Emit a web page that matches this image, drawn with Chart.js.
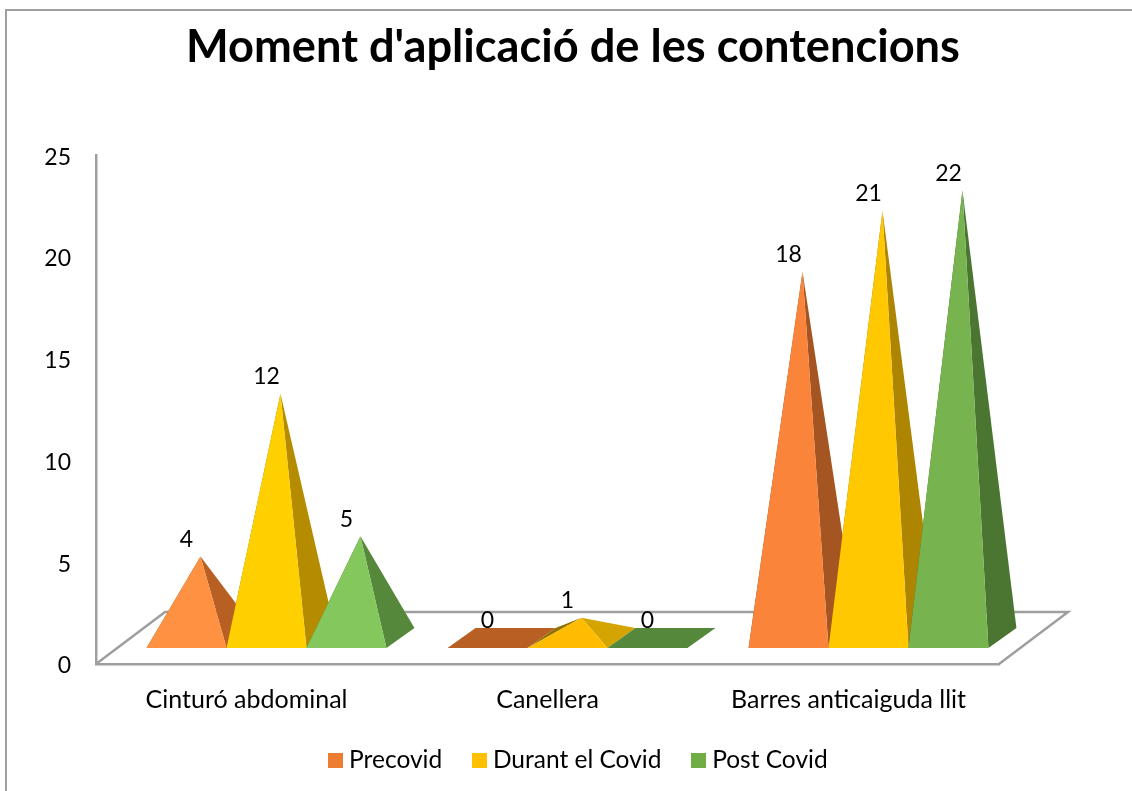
<!DOCTYPE html>
<html>
<head>
<meta charset="utf-8">
<style>html,body{margin:0;padding:0;background:#fff;overflow:hidden}canvas{display:block}</style>
<script src="https://cdn.jsdelivr.net/npm/chart.js@4"></script>
</head>
<body>
<div style="width:1132px;height:791px"><canvas id="c"></canvas></div>
<script>
const categories = ["Cinturó abdominal", "Canellera", "Barres anticaiguda llit"];
const precovid = [4, 0, 18];
const durantCovid = [12, 1, 21];
const postCovid = [5, 0, 22];
const seriesNames = ["Precovid", "Durant el Covid", "Post Covid"];
const legendColors = ["#ED7D31", "#FFC000", "#70AD47"];
const frontColors = [["#FF9142", "#FF9142", "#F9843A"], ["#FFD000", "#FFBC00", "#FFC800"], ["#83C75D", "#83C75D", "#77B44F"]];
const sideColors = [["#B86024", "#B86024", "#A55522"], ["#B58C00", "#D4A500", "#AE8500"], ["#55883A", "#55883A", "#4B7631"]];
const leftColors = ["#8a4a1c", "#8F7200", "#3f6a2a"];

const FONT = "Lato, Carlito, Calibri, sans-serif";
const GREY = "#9f9f9f";
const shiftX = 20, shiftY = 16, depthX = 28, depthY = 20;

function poly(ctx, pts, fill) {
  ctx.beginPath();
  pts.forEach((p, i) => i ? ctx.lineTo(p[0], p[1]) : ctx.moveTo(p[0], p[1]));
  ctx.closePath();
  ctx.fillStyle = fill;
  ctx.fill();
}
function swatch(color) {
  const s = document.createElement("canvas");
  s.width = 15; s.height = 15;
  const g = s.getContext("2d");
  g.fillStyle = color; g.fillRect(0, 0, 15, 15);
  return s;
}
const pyramids = {
  id: "pyramids",
  afterLayout(chart) {
    const t = chart.titleBlock, l = chart.legend;
    const tc = (t.left + t.right) / 2; t.left += 573 - tc; t.right += 573 - tc;
    const lc = (l.left + l.right) / 2; l.left += 581 - lc; l.right += 581 - lc;
    const h = l.bottom - l.top; l.top = 711.75; l.bottom = 711.75 + h;
  },
  beforeDraw(chart) {
    const ctx = chart.ctx, a = chart.chartArea;
    ctx.save();
    ctx.strokeStyle = GREY; ctx.lineWidth = 2;
    ctx.beginPath(); ctx.moveTo(1132, 10); ctx.lineTo(6, 10); ctx.lineTo(6, 791); ctx.stroke();
    ctx.lineWidth = 2.5; ctx.strokeStyle = GREY;
    ctx.beginPath();
    ctx.moveTo(a.left, a.bottom);
    ctx.lineTo(a.left + 69, a.bottom - 52);
    ctx.lineTo(a.right + 69, a.bottom - 52);
    ctx.lineTo(a.right, a.bottom);
    ctx.stroke();
    ctx.restore();
  },
  afterDatasetsDraw(chart) {
    const ctx = chart.ctx, y = chart.scales.y;
    ctx.save();
    const labels = [];
    chart.data.datasets.forEach((ds, s) => {
      chart.getDatasetMeta(s).data.forEach((bar, i) => {
        const v = ds.data[i];
        const cx = bar.x + shiftX, w = bar.width;
        const by = y.getPixelForValue(0) - shiftY;
        const FL = [cx - w / 2, by], FR = [cx + w / 2, by];
        const BR = [FR[0] + depthX, by - depthY], BL = [FL[0] + depthX, by - depthY];
        const apex = [cx + depthX / 2, y.getPixelForValue(v) - shiftY - depthY / 2];
        if (v === 0) {
          poly(ctx, [FL, FR, BR, BL], sideColors[s][i]);
        } else {
          poly(ctx, [FL, BL, apex], leftColors[s]);
          poly(ctx, [FR, BR, apex], sideColors[s][i]);
          poly(ctx, [FL, FR, apex], frontColors[s][i]);
        }
        labels.push([String(v), cx, y.getPixelForValue(v) - 43]);
      });
    });
    ctx.fillStyle = "#000";
    ctx.font = "23px " + FONT;
    ctx.textAlign = "center";
    ctx.textBaseline = "middle";
    labels.forEach(l => ctx.fillText(l[0], l[1], l[2]));
    ctx.restore();
  }
};

new Chart(document.getElementById("c"), {
  type: "bar",
  data: {
    labels: categories,
    datasets: [
      { label: seriesNames[0], data: precovid },
      { label: seriesNames[1], data: durantCovid },
      { label: seriesNames[2], data: postCovid }
    ].map(d => Object.assign(d, { backgroundColor: "rgba(0,0,0,0)", borderWidth: 0, categoryPercentage: 0.797, barPercentage: 1 }))
  },
  plugins: [pyramids],
  options: {
    responsive: true,
    maintainAspectRatio: false,
    animation: false,
    layout: { padding: { left: 5, right: 133, top: 0, bottom: 0 } },
    plugins: {
      tooltip: { enabled: false },
      title: {
        display: true,
        text: "Moment d'aplicació de les contencions",
        color: "#000",
        font: { family: FONT, size: 45.2, weight: "bold", lineHeight: 1.2 },
        padding: { top: 20, bottom: 81 }
      },
      legend: {
        position: "bottom",
        labels: {
          font: { family: FONT, size: 24.5 },
          color: "#000",
          usePointStyle: true,
          pointStyleWidth: 2.5,
          padding: 36,
          generateLabels(chart) {
            return chart.data.datasets.map((d, i) => ({
              text: d.label, datasetIndex: i, pointStyle: swatch(legendColors[i]),
              fillStyle: legendColors[i], strokeStyle: legendColors[i], lineWidth: 0, hidden: false, fontColor: "#000"
            }));
          }
        }
      }
    },
    scales: {
      x: {
        grid: { display: false, drawTicks: false },
        border: { display: true, color: GREY, width: 2.5 },
        afterFit(s) { s.height = 56.5; },
        ticks: { color: "#000", font: { family: FONT, size: 25 }, padding: 21, maxRotation: 0 }
      },
      y: {
        min: 0, max: 25,
        grid: { display: false, drawTicks: false },
        border: { display: true, color: GREY, width: 2.5 },
        afterFit(s) { s.width = 91; },
        ticks: { stepSize: 5, color: "#000", font: { family: FONT, size: 23 }, padding: 25, labelOffset: 2 }
      }
    }
  }
});
</script>
</body>
</html>
